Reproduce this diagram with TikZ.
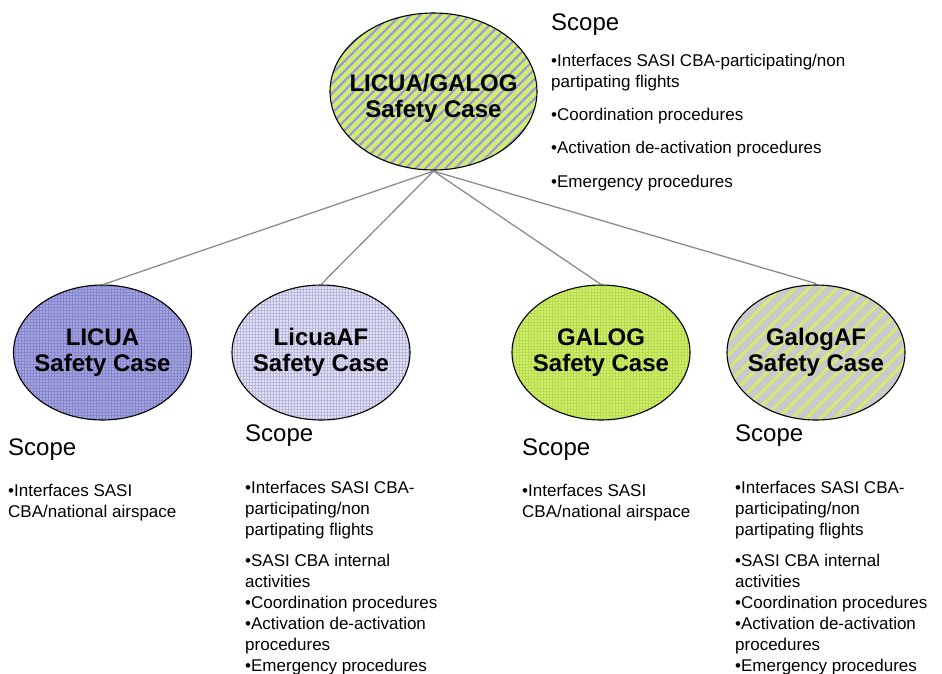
\documentclass[tikz,border=0pt]{standalone}
\usepackage{fontspec}
\setmainfont{Liberation Sans}
\usetikzlibrary{shapes.geometric,patterns.meta}
\definecolor{limefill}{HTML}{D2EC72}
\definecolor{violetfill}{HTML}{A4A4E2}
\definecolor{violetgrid}{HTML}{8484C8}
\definecolor{palefill}{HTML}{E2E2F4}
\definecolor{palegrid}{HTML}{B4B4DC}
\definecolor{limegrid}{HTML}{B4DC48}
\definecolor{greyfill}{HTML}{CACACA}
\definecolor{stripeblue}{HTML}{9A9ADA}
\definecolor{linkgrey}{HTML}{8C8C8C}

\begin{document}
\begin{tikzpicture}[x=1pt,y=-1pt,
    case/.style={ellipse,draw=black,line width=1.1pt,inner ysep=0pt,inner xsep=-14pt,
      minimum width=178pt,minimum height=135pt,align=center,
      font=\fontsize{24}{26}\selectfont\bfseries},
    link/.style={draw=linkgrey,line width=1.3pt},
    heading/.style={anchor=base west,inner sep=0pt,font=\fontsize{24}{26}\selectfont},
    items/.style={anchor=north west,inner sep=0pt,align=left,font=\fontsize{17}{21}\selectfont}
]
\useasboundingbox (0,0) rectangle (942,673);

% safety cases
\node[case,minimum width=207pt,minimum height=157pt,text height=56pt,preaction={fill=limefill},
  pattern={Lines[angle=45,distance=7pt,line width=2.2pt]},pattern color=stripeblue]
  (licuagalog) at (433.5,91.5) {LICUA/GALOG\\Safety Case};
\node[case,preaction={fill=violetfill},
  pattern={Hatch[angle=0,distance=3pt,line width=0.5pt]},pattern color=violetgrid]
  (licua) at (102.5,352.5) {LICUA\\Safety Case};
\node[case,preaction={fill=palefill},
  pattern={Hatch[angle=0,distance=3pt,line width=0.5pt]},pattern color=palegrid]
  (licuaaf) at (321,352.5) {LicuaAF\\Safety Case};
\node[case,preaction={fill=limefill},
  pattern={Hatch[angle=0,distance=3pt,line width=0.5pt]},pattern color=limegrid]
  (galog) at (601,352.5) {GALOG\\Safety Case};
\node[case,preaction={fill=greyfill},
  pattern={Lines[angle=45,distance=10pt,line width=3pt]},pattern color=limefill]
  (galogaf) at (816,352.5) {GalogAF\\Safety Case};

% links
\foreach \n in {licua,licuaaf,galog,galogaf}
  \draw[link] (licuagalog.south) -- (\n.north);

% scope texts
\node[heading] (topscope) at (551,30) {Scope};
\node[items] (toplist) at (551,53.6) {•Interfaces SASI CBA-participating/non\\
  partipating flights\\[12pt]
  •Coordination procedures\\[12pt]
  •Activation de-activation procedures\\[13pt]
  •Emergency procedures};

\node[heading] (licuascope) at (8,455) {Scope};
\node[items] (licualist) at (8,483.6) {•Interfaces SASI\\CBA/national airspace};

\node[heading] (licuaafscope) at (245,441) {Scope};
\node[items] (licuaaflist) at (245,480.6) {•Interfaces SASI CBA-\\
  participating/non\\
  partipating flights\\[10pt]
  •SASI CBA internal\\
  activities\\
  •Coordination procedures\\
  •Activation de-activation\\
  procedures\\
  •Emergency procedures};

\node[heading] (galogscope) at (522,455) {Scope};
\node[items] (galoglist) at (522,483.6) {•Interfaces SASI\\CBA/national airspace};

\node[heading] (galogafscope) at (735,441) {Scope};
\node[items] (galogaflist) at (735,480.6) {•Interfaces SASI CBA-\\
  participating/non\\
  partipating flights\\[10pt]
  •SASI CBA internal\\
  activities\\
  •Coordination procedures\\
  •Activation de-activation\\
  procedures\\
  •Emergency procedures};
\end{tikzpicture}
\end{document}
